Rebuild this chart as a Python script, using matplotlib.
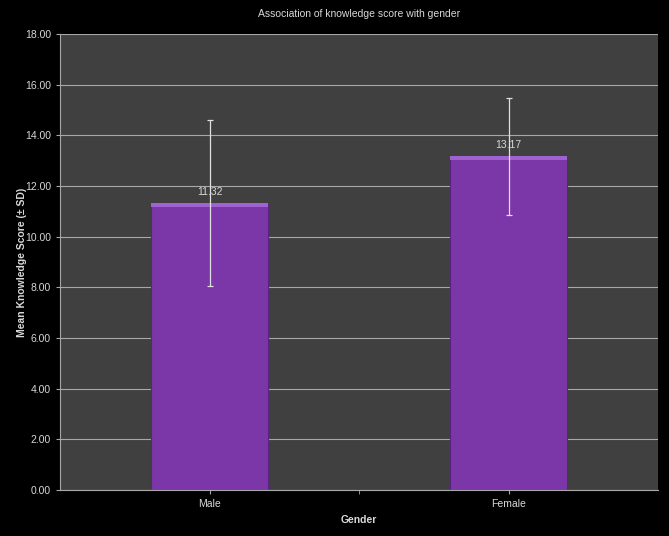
import matplotlib.pyplot as plt
import numpy as np

genders = ['Male', 'Female']
mean_scores = [11.32, 13.17]
sd_scores = [3.28, 2.30]
y_ticks = np.arange(0, 18.01, 2)

plt.rcParams['font.family'] = ['Liberation Sans', 'DejaVu Sans']

fig = plt.figure(figsize=(6.69, 5.36), dpi=100, facecolor='black')
ax = fig.add_axes([0.0897, 0.0858, 0.8939, 0.8508])
ax.set_facecolor('#404040')

x = np.arange(len(genders))
txt = '#d8d8d8'

ax.yaxis.grid(True, color='#a8a8a8', linewidth=0.8)
ax.set_axisbelow(True)

ax.bar(x, mean_scores, width=0.39, color='#7b36a8', edgecolor='#5a2580', linewidth=0.8, zorder=2)
# lighter bevel along the top of each bar
ax.bar(x, [0.15] * len(x), bottom=np.array(mean_scores) - 0.15, width=0.39,
       color='#a062d0', linewidth=0, zorder=3)
ax.errorbar(x, mean_scores, yerr=sd_scores, fmt='none', ecolor='#e0e0e0',
            elinewidth=0.9, capsize=2.5, capthick=0.9, zorder=4)

for xi, v in zip(x, mean_scores):
    ax.text(xi, v + 0.25, f'{v:.2f}', ha='center', va='bottom', fontsize=7.5,
            color=txt, zorder=5)

ax.set_xlim(-0.5, 1.5)
ax.set_ylim(0, 18)
ax.set_yticks(y_ticks)
ax.set_yticklabels([f'{t:.2f}' for t in y_ticks])
ax.set_xticks(x)
ax.set_xticklabels(genders)
ax.set_xticks([0.5], minor=True)
ax.tick_params(axis='both', colors='#a8a8a8', labelcolor=txt, labelsize=7.5, length=3)
ax.tick_params(axis='x', which='minor', colors='#a8a8a8', length=3)

for side in ['top', 'right']:
    ax.spines[side].set_visible(False)
ax.spines['left'].set_color('#a8a8a8')
ax.spines['bottom'].set_color('#a8a8a8')

ax.set_xlabel('Gender', color=txt, fontsize=7.5, fontweight='bold')
ax.set_ylabel('Mean Knowledge Score (± SD)', color=txt, fontsize=7.5, fontweight='bold')
ax.xaxis.set_label_coords(0.5, -0.055)
ax.yaxis.set_label_coords(-0.056, 0.5)
ax.set_title('Association of knowledge score with gender', color=txt, fontsize=7.5, pad=12)

fig.savefig('out.png', dpi=100, facecolor='black')
